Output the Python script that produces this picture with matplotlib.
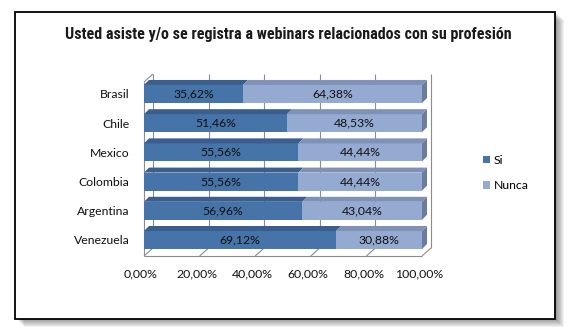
import matplotlib
matplotlib.use("Agg")
import matplotlib.pyplot as plt
from matplotlib import font_manager
from matplotlib.patches import Polygon, Rectangle, Patch
from matplotlib.transforms import ScaledTranslation
import numpy as np

# ---- data ----
countries = ["Brasil", "Chile", "Mexico", "Colombia", "Argentina", "Venezuela"]
si = [35.62, 51.46, 55.56, 55.56, 56.96, 69.12]
nunca = [64.38, 48.53, 44.44, 44.44, 43.04, 30.88]
series_names = ["Si", "Nunca"]
xticks = [0, 20, 40, 60, 80, 100]
xtick_labels = ["0,00%", "20,00%", "40,00%", "60,00%", "80,00%", "100,00%"]
title = "Usted asiste y/o se registra a webinars relacionados con su profesión"

# ---- style ----
SI_FRONT, SI_TOP = "#4673a8", "#3a5f8e"
NU_FRONT, NU_TOP, NU_SIDE = "#94aad0", "#7d92b6", "#6c7c9c"
GRID = "#8c8c8c"
BODY_FONT = ["Lato", "DejaVu Sans"]
BODY_SIZE = 8.8

# pick a narrow bold face for the title if one is available
names = {f.name for f in font_manager.fontManager.ttflist}
if "Liberation Sans Narrow" in names:
    title_kw = dict(family=["Liberation Sans Narrow"], fontsize=10.5)
elif "DejaVu Sans Condensed" in names:
    title_kw = dict(family=["DejaVu Sans Condensed"], fontsize=9.85)
elif "Roboto Condensed" in names:
    title_kw = dict(family=["Roboto Condensed"], fontsize=11.5)
else:
    title_kw = dict(family=["Roboto", "DejaVu Sans"], fontsize=9.85)

W, H = 570, 336
fig = plt.figure(figsize=(W / 100, H / 100), dpi=100)
fig.patch.set_facecolor("white")


def fx(px):
    return px / W


def fy(py):
    return 1 - py / H


# ---- outer frame with soft drop shadow ----
left, top, right, bottom = 15, 12, 555, 319
for i in range(1, 9):
    fig.patches.append(Rectangle((fx(left + 1 + i), fy(bottom + i)),
                                 fx(right - left), fy(top) - fy(bottom),
                                 transform=fig.transFigure, facecolor="black",
                                 edgecolor="none", alpha=0.055, zorder=0))
fig.patches.append(Rectangle((fx(left), fy(bottom)), fx(right - left),
                             fy(top) - fy(bottom), transform=fig.transFigure,
                             facecolor="white", edgecolor="black", linewidth=1.3,
                             zorder=1))

fig.text(fx(288), fy(35), title, ha="center", va="center",
         fontweight="bold", color="#1a1a1a", zorder=5, **title_kw)

# ---- plot area (front plane) ----
ax = fig.add_axes([fx(144), fy(256), fx(422) - fx(144), fy(82) - fy(256)])
ax.set_zorder(2)
ax.patch.set_visible(False)
n = len(countries)
ypos = np.arange(n)[::-1].astype(float)
y0, y1 = -0.548, 5.41
ax.set_xlim(0, 100)
ax.set_ylim(y0, y1)
for s in ax.spines.values():
    s.set_visible(False)

# pixel -> data scale factors for the depth offsets
ax_w_px = 422 - 144
ax_h_px = 256 - 82
sx = ax_w_px / 100.0
sy = ax_h_px / (y1 - y0)
dxw, dyw = 9 / sx, 8 / sy      # wall depth
dxb, dyb = 5 / sx, 5 / sy      # bar depth
bh = 18 / sy                   # bar thickness

line_kw = dict(color=GRID, lw=0.8, clip_on=False, zorder=1,
               solid_capstyle="butt")
# back-wall gridlines and floor diagonals
for t in xticks:
    ax.plot([t + dxw, t + dxw], [y0 + dyw, y1 + dyw], **line_kw)
    ax.plot([t, t + dxw], [y0, y0 + dyw], **line_kw)
# left wall and floor edge
ax.plot([0, 0], [y0, y1], **line_kw)
ax.plot([0, dxw], [y1, y1 + dyw], **line_kw)
ax.plot([0, 100], [y0, y0], **line_kw)

# ---- bars ----
ax.barh(ypos, si, height=bh, color=SI_FRONT, zorder=3)
ax.barh(ypos, nunca, left=si, height=bh, color=NU_FRONT, zorder=3)
for yc, a, b in zip(ypos, si, nunca):
    yt = yc + bh / 2
    yb = yc - bh / 2
    end = a + b
    ax.add_patch(Polygon([(0, yt), (a, yt), (a + dxb, yt + dyb), (dxb, yt + dyb)],
                         closed=True, facecolor=SI_TOP, edgecolor="none",
                         zorder=3, clip_on=False))
    ax.add_patch(Polygon([(a, yt), (end, yt), (end + dxb, yt + dyb), (a + dxb, yt + dyb)],
                         closed=True, facecolor=NU_TOP, edgecolor="none",
                         zorder=3, clip_on=False))
    ax.add_patch(Polygon([(end, yb), (end, yt), (end + dxb, yt + dyb), (end + dxb, yb + dyb)],
                         closed=True, facecolor=NU_SIDE, edgecolor="none",
                         zorder=3, clip_on=False))
    ax.text(a / 2, yc, f"{a:.2f}".replace(".", ",") + "%", ha="center",
            va="center", fontsize=BODY_SIZE, family=BODY_FONT, color="#111111", zorder=5)
    ax.text(a + b / 2, yc, f"{b:.2f}".replace(".", ",") + "%", ha="center",
            va="center", fontsize=BODY_SIZE, family=BODY_FONT, color="#111111", zorder=5)

# ---- axes labels ----
ax.set_yticks(ypos, countries)
ax.set_xticks(xticks, xtick_labels)
ax.tick_params(axis="both", length=0, labelsize=BODY_SIZE, colors="#111111")
ax.tick_params(axis="y", pad=10.5)
ax.tick_params(axis="x", pad=9)
for lbl in ax.get_xticklabels() + ax.get_yticklabels():
    lbl.set_family(BODY_FONT)
shift = ScaledTranslation(-3 / 100, 0, fig.dpi_scale_trans)
for lbl in ax.get_xticklabels():
    lbl.set_transform(lbl.get_transform() + shift)

# ---- legend ----
handles = [Patch(facecolor=SI_FRONT), Patch(facecolor=NU_FRONT)]
leg = fig.legend(handles, series_names, loc="center left",
                 bbox_to_anchor=(fx(472), fy(173)), frameon=False,
                 prop={"family": BODY_FONT, "size": BODY_SIZE},
                 handlelength=0.55, handleheight=0.55, handletextpad=0.3,
                 labelspacing=1.2)
leg.set_zorder(5)

fig.savefig("out.png", dpi=100, facecolor="white")
